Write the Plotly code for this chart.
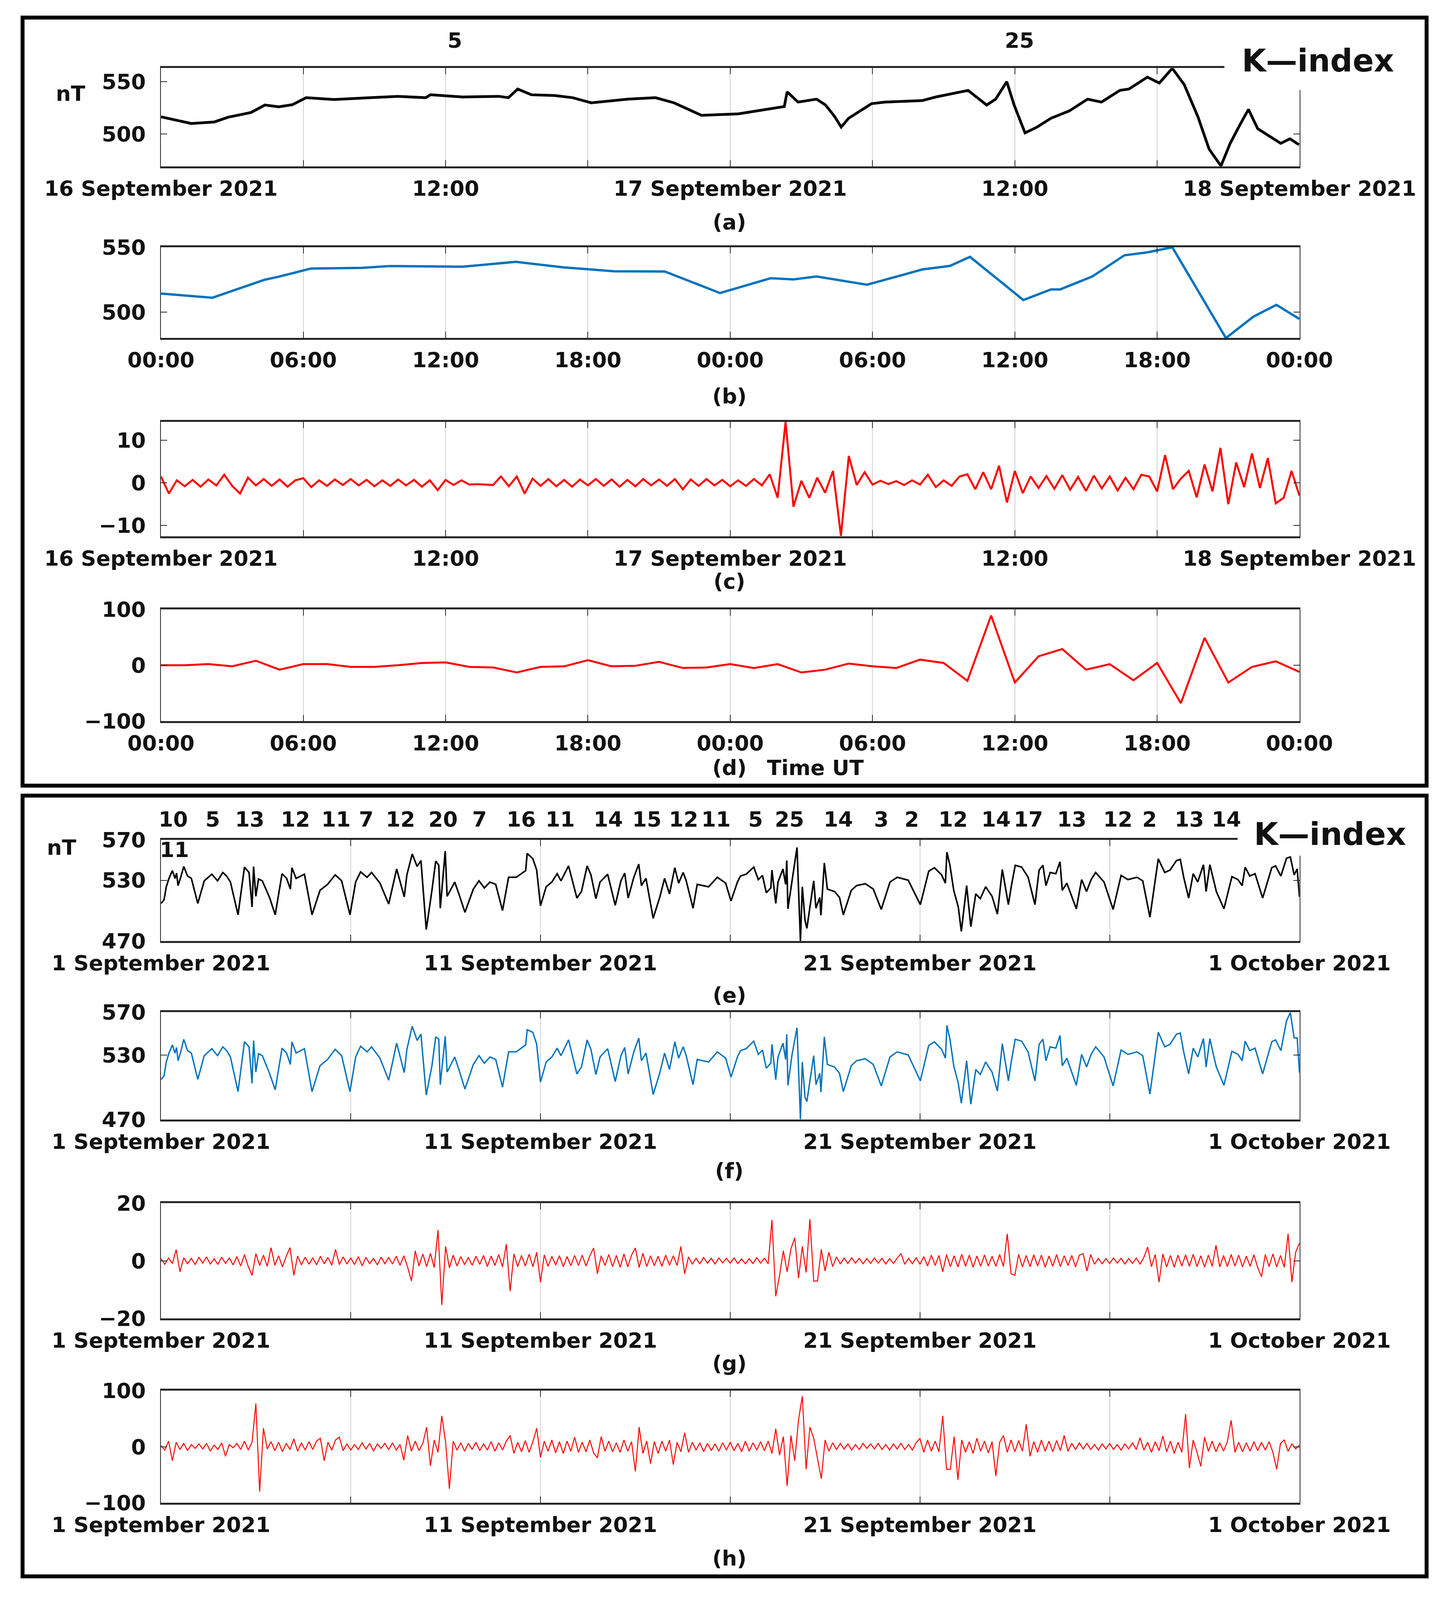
import plotly.graph_objects as go

# reference canvas (all layout positions below are measured on it) and drawn figure size
W, H = 3690, 4511
FIG_W, FIG_H = 3674, 4080
FONT = "DejaVu Sans"

# ---------------- data : 16-18 September 2021 (hours from 16 Sep 00:00) ----------------
a_hours = [0, 0.5, 1.28, 2.25, 2.83, 3.8, 4.38, 4.96, 5.54, 6.12, 7.29, 8.84, 10.0, 11.16, 11.36,
           12.71, 14.26, 14.65, 15.04, 15.62, 16.59, 17.36, 18.14, 19.69, 20.85, 21.63, 22.79,
           24.34, 25.5, 26.28, 26.4, 26.86, 27.64, 28.02, 28.41, 28.68, 28.99, 29.96, 30.54, 32.09,
           32.67, 33.64, 34.03, 34.81, 35.19, 35.66, 35.97, 36.43, 36.94, 37.52, 38.29, 39.07, 39.65,
           40.43, 40.81, 41.59, 42.09, 42.64, 43.14, 43.72, 44.19, 44.69, 45.08, 45.47, 45.85, 46.24,
           46.63, 47.21, 47.6, 47.98]
a_nT = [516.4, 514.0, 510.0, 511.5, 516.0, 520.6, 527.7, 526.0, 528.0, 534.7, 533.0, 534.7, 536.0, 534.7, 537.5,
        535.4, 536.0, 534.7, 543.0, 537.5, 536.8, 534.7, 529.8, 533.3, 534.7, 529.8, 517.8,
        519.2, 523.5, 526.3, 540.3, 530.5, 533.3, 527.7, 516.4, 506.6, 515.0, 529.0, 530.5, 531.9,
        535.4, 540.3, 541.7, 527.7, 533.3, 550.0, 527.7, 501.0, 506.6, 515.0, 522.0, 533.3, 530.5,
        541.7, 543.0, 554.4, 548.7, 562.8, 547.3, 516.4, 485.5, 469.4, 491.0, 508.0, 523.5, 505.0,
        499.6, 491.0, 495.4, 489.7]

b_hours = [0, 2.17, 4.38, 4.96, 6.32, 8.45, 9.63, 12.72, 14.96, 16.97, 19.11, 21.24, 23.57, 25.7, 26.67,
           27.64, 29.77, 32.1, 33.26, 34.11, 36.36, 37.52, 37.91, 39.27, 40.62, 41.59, 42.64, 44.9,
           46.06, 47.03, 48]
b_nT = [514.3, 511.1, 525.0, 527.3, 533.6, 534.1, 535.5, 535.0, 538.8, 534.5, 531.5, 531.3, 514.7, 526.1, 525.2,
        527.5, 521.1, 532.9, 535.6, 542.6, 509.3, 517.5, 517.5, 527.5, 543.8, 546.1, 550.0, 480.0,
        496.5, 505.6, 494.7]

# panel (c): 20-minute samples
c_step_h = 1 / 3
c_nT = [1.5, -2.5, 0.6, -0.8, 0.7, -0.9,
        0.8, -0.6, 1.9, -0.7, -2.5, 1.2,
        -0.6, 0.9, -0.7, 0.8, -0.9, 0.6,
        1.1, -1.0, 0.6, -0.7, 0.8, -0.5,
        0.9, -0.6, 0.7, -0.8, 0.6, -0.7,
        0.8, -0.6, 0.7, -0.9, 0.6, -1.7,
        0.7, -0.5, 0.6, -0.4, -0.3, -0.4,
        -0.5, 1.5, -0.8, 1.5, -2.5, 1.0,
        -0.7, 0.9, -0.8, 0.7, -0.9, 0.8,
        -0.6, 0.9, -0.7, 0.8, -0.9, 0.7,
        -0.8, 0.9, -0.6, 0.8, -0.7, 0.9,
        -1.5, 0.8, -0.7, 0.9, -0.6, 0.7,
        -0.8, 0.6, -0.7, 0.9, -0.6, 2.0,
        -3.5, 14.3, -5.6, 0.5, -3.5, 1.2,
        -2.3, 2.8, -12.4, 6.3, -0.5, 2.5,
        -0.4, 0.5, -0.3, 0.4, -0.5, 0.6,
        -0.4, 1.9, -1.0, 0.6, -0.7, 1.5,
        2.0, -1.5, 2.5, -1.5, 4.0, -4.6,
        2.8, -2.4, 1.5, -1.2, 1.6, -1.4,
        1.8, -1.6, 1.4, -1.9, 1.7, -1.3,
        1.5, -1.8, 1.2, -1.5, 1.9, 1.5,
        -2.0, 6.5, -1.5, 1.0, 2.8, -3.4,
        4.3, -2.0, 8.2, -5.0, 4.8, -1.0,
        6.9, -1.2, 5.8, -4.8, -3.5, 2.8,
        -3.0]

# panel (d): hourly values
d_nT = [0, 0, 2, -2, 8, -8, 2, 2, -3, -3, 0, 4, 5, -3, -4, -13, -3, -2, 9, -2, -1, 6, -5, -4,
        2, -5, 2, -13, -8, 3, -2, -5, 10, 4, -28, 89, -31, 16, 29, -8, 2, -27, 4, -68, 49, -31, -3, 7,
        -12]

# ---------------- data : September 2021 (days from 1 Sep 00:00) ----------------
e_days = [0.00, 0.08, 0.14, 0.21, 0.30, 0.37, 0.41, 0.45, 0.52, 0.60, 0.70, 0.80, 0.97,
          1.14, 1.34, 1.49, 1.63, 1.73, 1.83,
          2.03, 2.20, 2.32, 2.40, 2.44, 2.50, 2.57, 2.67, 2.86,
          3.01, 3.19, 3.31, 3.41, 3.45, 3.56, 3.78, 3.98,
          4.19, 4.39, 4.59, 4.76, 4.98,
          5.13, 5.26, 5.43, 5.55, 5.77,
          6.00, 6.21, 6.41, 6.48, 6.62, 6.75, 6.85, 6.99,
          7.14, 7.24, 7.32, 7.36, 7.49, 7.54, 7.74, 7.85,
          8.01, 8.23, 8.38, 8.52, 8.67, 8.82,
          9.00, 9.16, 9.36, 9.61, 9.65, 9.80, 9.90,
          10.00, 10.15, 10.30, 10.44, 10.54, 10.74, 10.96,
          11.08, 11.23, 11.33, 11.46, 11.57, 11.77, 11.97,
          12.12, 12.22, 12.31, 12.46, 12.59, 12.66, 12.78, 12.97,
          13.15, 13.27, 13.40, 13.54, 13.64, 13.76, 13.84,
          14.02, 14.13, 14.43, 14.66, 14.88,
          15.02, 15.19, 15.27, 15.42, 15.62, 15.74, 15.85, 15.95,
          16.07, 16.10, 16.20, 16.26, 16.39, 16.46, 16.49, 16.52, 16.63, 16.76, 16.85, 16.90, 16.97,
          17.02, 17.20, 17.26, 17.36, 17.39, 17.48, 17.56, 17.75, 17.88, 17.98,
          18.19, 18.33, 18.56, 18.77, 18.98,
          19.21, 19.40, 19.69,
          20.01, 20.23, 20.38, 20.57, 20.67, 20.71, 20.79, 20.89,
          21.01, 21.09, 21.23, 21.34, 21.47, 21.59, 21.73, 21.90,
          22.04, 22.17, 22.33, 22.41, 22.51, 22.68, 22.85,
          23.03, 23.14, 23.24, 23.32, 23.43, 23.58, 23.69, 23.75, 23.87,
          24.12, 24.26, 24.39, 24.51, 24.63, 24.85,
          25.09, 25.30, 25.48, 25.72, 25.87,
          26.06, 26.28, 26.45, 26.59, 26.76, 26.86, 26.95,
          27.08, 27.20, 27.32, 27.47, 27.54, 27.64, 27.73, 27.81,
          28.01, 28.22, 28.38, 28.49, 28.57, 28.69, 28.83,
          29.03, 29.27, 29.37, 29.51, 29.66, 29.76, 29.86, 29.94, 30.00]
e_nT = [507.2, 510.7, 523.6, 531.9, 539.5, 531.9, 537.1, 524.8, 533.0, 543.6, 534.2, 531.9, 507.2,
        529.5, 536.0, 529.5, 537.7, 534.2, 528.3,
        496.0, 543.0, 537.7, 503.7, 543.6, 514.2, 531.3, 529.5, 513.1,
        496.0, 536.5, 531.9, 521.3, 542.4, 531.9, 536.0, 496.0,
        520.1, 526.0, 535.4, 529.5, 496.0,
        528.3, 538.3, 533.0, 537.7, 527.2,
        506.6, 541.2, 513.7, 535.4, 555.9, 543.6, 549.5, 481.4,
        520.1, 548.9, 544.8, 502.5, 558.8, 514.2, 528.3, 516.6,
        498.4, 521.3, 529.5, 522.5, 528.3, 526.0,
        500.2, 533.0, 533.0, 539.5, 556.5, 551.2, 540.1,
        504.9, 523.6, 528.3, 536.5, 529.5, 544.2, 512.5,
        518.9, 544.2, 535.4, 511.9, 528.3, 536.0, 505.4,
        529.5, 537.1, 512.5, 533.0, 545.9, 524.8, 531.9, 492.5,
        514.2, 531.9, 516.6, 542.4, 527.2, 537.7, 529.5,
        502.5, 526.0, 523.6, 533.0, 527.2,
        509.6, 528.3, 534.2, 536.0, 543.0, 530.7, 534.8, 517.8,
        522.5, 540.1, 507.2, 528.3, 541.2, 526.0, 549.5, 501.9, 530.7, 562.4, 470.2, 523.6, 490.8,
        482.6, 529.5, 502.5, 513.1, 495.5, 547.1, 521.3, 518.9, 513.1, 496.0,
        520.1, 524.8, 526.6, 521.3, 501.3,
        528.3, 533.0, 530.1,
        506.0, 538.9, 542.4, 535.4, 527.2, 557.7, 544.8, 520.1,
        503.7, 479.6, 524.8, 484.3, 516.6, 511.9, 523.6, 514.2,
        496.6, 540.7, 506.0, 524.8, 544.8, 543.0, 533.0,
        506.0, 540.1, 544.8, 524.8, 537.7, 536.5, 548.3, 520.1, 527.2,
        501.9, 530.7, 518.9, 530.7, 537.7, 528.3,
        501.3, 534.8, 530.7, 533.0, 529.5,
        493.7, 551.2, 537.7, 540.1, 549.5, 550.6, 533.0,
        512.5, 536.5, 528.3, 545.4, 518.9, 545.4, 530.7, 518.9,
        501.9, 533.6, 530.7, 524.8, 543.0, 534.2, 536.5,
        512.5, 542.4, 544.2, 534.2, 551.8, 553.0, 535.4, 541.2, 513.7]

f_days = list(e_days)
f_nT = [507.2, 510.7, 523.6, 531.9, 539.5, 531.9, 537.1, 524.8, 533.0, 544.7, 534.2, 531.9, 507.5,
        529.5, 536.0, 529.5, 537.7, 534.2, 528.3,
        496.0, 542.5, 537.7, 503.7, 543.6, 514.2, 531.3, 529.5, 513.1,
        497.7, 536.5, 531.9, 521.3, 542.4, 531.9, 536.0, 496.0,
        520.1, 526.0, 535.4, 529.5, 496.0,
        528.3, 538.3, 533.0, 537.7, 527.2,
        506.6, 541.2, 513.7, 535.4, 556.9, 543.6, 549.5, 492.8,
        520.1, 547.0, 544.8, 502.5, 547.5, 514.2, 528.3, 516.6,
        498.4, 521.3, 529.5, 522.5, 528.3, 526.0,
        500.2, 533.0, 533.0, 539.5, 553.6, 551.2, 540.1,
        504.9, 523.6, 528.3, 536.5, 529.5, 544.2, 512.5,
        518.9, 544.2, 535.4, 511.9, 528.3, 536.0, 505.4,
        529.5, 537.1, 512.5, 533.0, 545.9, 524.8, 531.9, 493.3,
        514.2, 531.9, 516.6, 542.4, 527.2, 537.7, 529.5,
        502.5, 526.0, 523.6, 533.0, 527.2,
        509.6, 528.3, 534.2, 536.0, 543.0, 530.7, 534.8, 517.8,
        522.5, 540.1, 507.2, 528.3, 541.2, 526.0, 549.5, 501.9, 530.7, 555.5, 470.3, 523.6, 490.8,
        486.8, 529.5, 502.5, 513.1, 495.5, 547.1, 521.3, 518.9, 513.1, 496.0,
        520.1, 524.8, 526.6, 521.3, 501.3,
        528.3, 533.0, 530.1,
        506.0, 538.9, 542.4, 535.4, 527.2, 557.7, 544.8, 520.1,
        503.7, 485.2, 524.8, 484.3, 516.6, 511.9, 523.6, 514.2,
        496.6, 540.7, 506.0, 524.8, 544.8, 543.0, 533.0,
        506.0, 540.1, 544.8, 524.8, 537.7, 536.5, 548.3, 520.1, 527.2,
        501.9, 530.7, 518.9, 530.7, 537.7, 528.3,
        501.3, 534.8, 530.7, 533.0, 529.5,
        493.7, 551.2, 537.7, 540.1, 549.5, 550.6, 533.0,
        512.5, 536.5, 528.3, 545.4, 518.9, 545.4, 530.7, 518.9,
        501.9, 533.6, 530.7, 524.8, 543.0, 534.2, 536.5,
        512.5, 542.4, 544.2, 534.2, 562.0, 569.5, 546.0, 546.0, 513.5]

# panels (g) and (h): samples every 0.1 day
gh_step_d = 0.1
g_nT = [0.8, -1.2, 1.0, -0.9, 3.9, -3.8, 1.1, -1.0, 0.9, -1.3,
        1.2, -0.8, 1.4, -1.1, 0.7, -1.2, 1.3, -0.9, 1.0, -1.4,
        1.5, -1.8, 2.2, -2.0, -5.0, 2.5, -1.6, 2.0, -1.9, 4.6,
        -1.5, 1.8, -2.1, 1.6, 4.6, -5.0, 1.7, -1.4, 1.3, -1.2,
        1.1, -1.4, 1.6, -1.0, 1.2, -1.5, 4.0, -1.3, 1.4, -1.1,
        1.0, -1.3, 1.5, -1.7, 1.2, -1.0, 0.9, -1.4, 1.3, -1.0,
        1.2, -1.1, 1.6, -1.5, 1.8, -2.2, -7.0, 3.5, -1.8, 2.4,
        -2.0, 2.6, -2.3, 10.7, -15.3, 5.0, -2.4, 2.0, -1.8, 1.5,
        -1.3, 1.2, -1.5, 1.6, -1.2, 1.9, -2.0, 1.7, -1.6, 2.2,
        -2.1, 5.8, -10.5, 2.4, -2.0, 1.9, -1.8, 2.3, -2.0, 3.0,
        -7.4, 2.1, -1.9, 1.6, -1.4, 1.8, -2.0, 1.5, -1.7, 1.9,
        -1.6, 2.0, -1.8, 1.7, 4.5, -4.5, 1.8, -1.6, 2.2, -2.0,
        1.9, -2.2, 2.4, -2.1, 2.0, 4.5, -2.3, 2.6, -2.0, 1.8,
        -1.7, 1.6, -1.9, 2.0, -1.5, 1.8, -1.6, 5.0, -4.5, 1.4,
        -1.1, 0.9, -1.0, 1.2, -0.8, 0.9, -1.1, 1.0, -0.7, 0.9,
        -0.8, 1.0, -0.9, 0.7, -1.0, 0.8, -0.9, 1.1, -0.8, 0.9,
        -1.0, 14.2, -12.3, -5.0, 3.5, -3.8, 4.2, 8.0, -6.0, 5.0,
        -4.0, 14.5, -7.0, -7.0, 4.0, -3.5, 3.0, -2.0, 1.4, -1.1,
        1.0, -0.9, 1.1, -0.8, 0.9, -1.0, 0.8, -0.9, 1.0, -0.8,
        0.9, -1.1, 0.8, -0.9, 1.0, 2.5, -1.2, 0.9, -1.0, 1.1,
        -1.2, 1.5, -1.8, 2.0, -1.6, 1.9, -3.8, 2.2, -2.0, 1.8,
        -2.1, 2.3, -1.9, 2.0, -2.2, 1.7, -1.9, 2.1, -1.8, 1.6,
        -1.9, 2.2, -2.0, 9.4, -4.5, -5.0, 2.3, -2.1, 1.9, -2.0,
        2.1, -1.8, 2.0, -2.2, 1.7, -1.9, 2.2, -2.0, 1.8, -1.6,
        1.9, -2.1, 2.0, 2.5, -3.5, 2.2, -1.2, 0.9, -1.0, 0.8,
        -0.9, 1.0, -0.8, 0.9, -1.1, 0.8, -0.9, 1.0, -1.1, 1.2,
        4.8, -2.0, 2.2, -7.4, 2.4, -2.1, 1.9, -2.2, 2.0, -1.8,
        2.1, -1.9, 2.3, -2.0, 1.8, -2.2, 2.0, -1.9, 5.4, -2.1,
        1.9, -2.0, 2.2, -1.8, 2.0, -2.1, 1.7, -1.9, 2.1, -2.3,
        -5.5, 2.2, -2.0, 2.4, -2.1, 1.9, -2.2, 9.4, -7.4, 3.0,
        6.2]
h_nT = [2, -6, 10, -25, 8, -5, 6, -7, 4, -3,
        5, -4, 6, -8, 3, -5, 7, -17, 4, -2,
        6, -5, 10, -6, 8, 77, -80, 33, -4, 9,
        -7, 8, -9, 6, -5, 14, -8, 7, -6, 9,
        -5, 10, 15, -25, 8, -6, 12, 17, -7, 5,
        -6, 4, -5, 7, -4, 6, -8, 5, -3, 6,
        -5, 7, -6, 4, -24, 20, -8, 10, -7, 6,
        35, -34, 12, -10, 55, 8, -75, 10, -6, 7,
        -8, 6, -5, 8, -7, 5, -6, 9, -8, 7,
        -6, 10, 20, -12, 8, -9, 11, -10, 9, 33,
        -19, 10, -8, 12, -11, 9, -12, 10, -8, 17,
        -10, 8, -9, 12, -11, -20, 18, -8, 10, -9,
        7, -10, 12, -8, 9, -44, 35, -12, 10, -30,
        9, -12, 10, -8, 12, -32, 8, -9, 25, -10,
        8, -6, 7, -9, 6, -7, 5, -8, 7, -6,
        8, -7, 6, -9, 10, -8, 7, -6, 9, -7,
        10, -12, 32, -15, 18, -70, 20, -25, 48, 90,
        -40, 35, 15, -20, -57, 12, -8, 7, -5, 6,
        -4, 5, -6, 4, -5, 6, -3, 5, -4, 6,
        -5, 4, -6, 5, -4, 6, -5, 4, -6, 7,
        15, -10, 12, -8, 10, -9, 55, -40, -40, 18,
        -59, 12, -10, 9, -12, 15, -8, 10, -11, 9,
        -52, 8, 20, -10, 12, -9, 11, -8, 40, -17,
        9, -10, 12, -8, 10, -9, 11, -7, 20, -8,
        6, -5, 7, -4, 6, -5, 4, -6, 5, -4,
        6, -5, 4, -6, 5, -4, 7, -5, 16, -6,
        8, -10, 9, -7, 19, -9, 10, -12, 8, -10,
        58, -38, 12, -10, -35, 17, -8, 10, -9, 7,
        -8, 9, 47, -10, 8, -9, 7, -8, 9, -7,
        8, -6, 9, -10, -40, 6, 12, -8, 5, -4,
        3]

# K-index values
k_top = ["5", "25"]
k_top_hours = [12.4, 36.2]
k_month = ["10", "5", "13", "12", "11", "7", "12", "20", "7", "16", "11", "14", "15", "12",
           "11", "5", "25", "14", "3", "2", "12", "14", "17", "13", "12", "2", "13", "14"]
k_month_extra = "11"

# tick labels
top_date_ticks = ["16 September 2021", "", "12:00", "", "17 September 2021", "", "12:00", "",
                  "18 September 2021"]
top_time_ticks = ["00:00", "06:00", "12:00", "18:00", "00:00", "06:00", "12:00", "18:00", "00:00"]
month_ticks = ["1 September 2021", "", "11 September 2021", "", "21 September 2021", "",
               "1 October 2021"]

# ---------------- layout helpers ----------------
X0, X1 = 406, 3334                      # plot left/right (reference pixels)
panel_px = [(184, 462), (691, 948), (1185, 1509), (1716, 2032),
            (2368, 2655), (2856, 3160), (3397, 3723), (3927, 4245)]
BLUE, RED, BLACK = "#0072BD", "#FF0000", "#000000"
TXT = "#111111"
FS = 54


def fx(p):
    return p / W


def fy(p):
    return 1 - p / H


def tfont(size=FS):
    return dict(family=FONT, size=size, color=TXT, weight="bold")


fig = go.Figure()

c_hours = [i * c_step_h for i in range(len(c_nT))]
d_hours = list(range(len(d_nT)))
g_days = [round(i * gh_step_d, 2) for i in range(len(g_nT))]
h_days = [round(i * gh_step_d, 2) for i in range(len(h_nT))]

series = [
    (a_hours, a_nT, BLACK, 7),
    (b_hours, b_nT, BLUE, 6),
    (c_hours, c_nT, RED, 5),
    (d_hours, d_nT, RED, 5),
    (e_days, e_nT, BLACK, 4),
    (f_days, f_nT, BLUE, 3.5),
    (g_days, g_nT, RED, 2.5),
    (h_days, h_nT, RED, 2.5),
]
for i, (xs, ys, col, lw) in enumerate(series):
    sfx = "" if i == 0 else str(i + 1)
    fig.add_trace(go.Scatter(x=xs, y=ys, mode="lines", line=dict(color=col, width=lw),
                             xaxis="x" + sfx, yaxis="y" + sfx, showlegend=False,
                             hoverinfo="skip"))

y_ranges = [[469, 563], [480, 550], [-12.5, 14.3], [-100, 100],
            [470, 570], [470, 570], [-20, 20], [-100, 100]]
y_ticks = [([500, 550], ["500", "550"]), ([500, 550], ["500", "550"]),
           ([-10, 0, 10], ["\u221210", "0", "10"]), ([-100, 0, 100], ["\u2212100", "0", "100"]),
           ([470, 530, 570], ["470", "530", "570"]), ([470, 530, 570], ["470", "530", "570"]),
           ([-20, 0, 20], ["\u221220", "0", "20"]), ([-100, 0, 100], ["\u2212100", "0", "100"])]

layout = dict(width=FIG_W, height=FIG_H, autosize=False, margin=dict(l=0, r=0, t=0, b=0),
              paper_bgcolor="white", plot_bgcolor="white", template="none", showlegend=False)

for i in range(8):
    sfx = "" if i == 0 else str(i + 1)
    top, bot = panel_px[i]
    if i < 4:
        xr = [0, 48]
        tv = list(range(0, 49, 6))
        tt = top_date_ticks if i in (0, 2) else top_time_ticks
    else:
        xr = [0, 30]
        tv = list(range(0, 31, 5))
        tt = month_ticks
    layout["xaxis" + sfx] = dict(
        domain=[fx(X0), fx(X1)], anchor="y" + sfx, range=xr, tickvals=tv, ticktext=tt,
        ticks="inside", ticklen=16, tickwidth=2, tickcolor="#262626",
        showgrid=True, gridcolor="#d2d2d2", gridwidth=2, zeroline=False,
        showline=True, linewidth=5, linecolor="#262626", mirror="ticks",
        tickfont=tfont(), ticklabelstandoff=5, fixedrange=True)
    layout["yaxis" + sfx] = dict(
        domain=[fy(bot), fy(top)], anchor="x" + sfx, range=y_ranges[i],
        tickvals=y_ticks[i][0], ticktext=y_ticks[i][1],
        ticks="inside", ticklen=16, tickwidth=2, tickcolor="#262626",
        showgrid=False, zeroline=False, showline=True, linewidth=2, linecolor="#262626",
        mirror="ticks", tickfont=tfont(), ticklabelstandoff=26, fixedrange=True)

shapes = [
    # cover the top-right corner behind the K-index legend text
    dict(type="rect", xref="paper", yref="paper", x0=fx(3141), x1=fx(3652), y0=fy(246), y1=fy(54),
         fillcolor="white", line=dict(width=0), layer="above"),
    dict(type="rect", xref="paper", yref="paper", x0=fx(3175), x1=fx(3652), y0=fy(2413), y1=fy(2254),
         fillcolor="white", line=dict(width=0), layer="above"),
    # outer frames
    dict(type="rect", xref="paper", yref="paper", x0=fx(50), x1=fx(3661), y0=fy(2215), y1=fy(41),
         line=dict(color="black", width=10), fillcolor="rgba(0,0,0,0)", layer="above"),
    dict(type="rect", xref="paper", yref="paper", x0=fx(50), x1=fx(3661), y0=fy(4453), y1=fy(2243),
         line=dict(color="black", width=10), fillcolor="rgba(0,0,0,0)", layer="above"),
]


def ann(text, xpx, ypx, size=FS, xanchor="center"):
    return dict(text=text, x=fx(xpx), y=fy(ypx), xref="paper", yref="paper", showarrow=False,
                font=tfont(size), xanchor=xanchor, yanchor="middle")


annotations = []
# K-index values, top figure (placed in data time)
for k, hr in zip(k_top, k_top_hours):
    annotations.append(dict(text=k, x=hr, y=fy(106), xref="x", yref="paper", showarrow=False,
                            font=tfont(), xanchor="center", yanchor="middle"))
annotations.append(ann("K\u2014index", 3382, 163, size=80))
annotations.append(ann("nT", 173, 256))
# K-index values, monthly figure
k_month_px = [437, 539, 634, 752, 856, 934, 1022, 1131, 1225, 1332, 1433, 1556, 1656, 1750,
              1833, 1935, 2022, 2148, 2259, 2337, 2443, 2554, 2637, 2748, 2867, 2949, 3051, 3146]
for k, p in zip(k_month, k_month_px):
    annotations.append(ann(k, p, 2310))
annotations.append(ann(k_month_extra, 440, 2397))
annotations.append(ann("K\u2014index", 3413, 2352, size=80))
annotations.append(ann("nT", 150, 2390))
# panel letters
for lab, ypx in [("(a)", 620), ("(b)", 1113), ("(c)", 1637), ("(d)", 2164),
                 ("(e)", 2808), ("(f)", 3305), ("(g)", 3850), ("(h)", 4402)]:
    annotations.append(ann(lab, 1868, ypx))
annotations.append(ann("Time UT", 1963, 2164, xanchor="left"))

layout["shapes"] = shapes
layout["annotations"] = annotations
fig.update_layout(**layout)

fig.write_html("out.html")
